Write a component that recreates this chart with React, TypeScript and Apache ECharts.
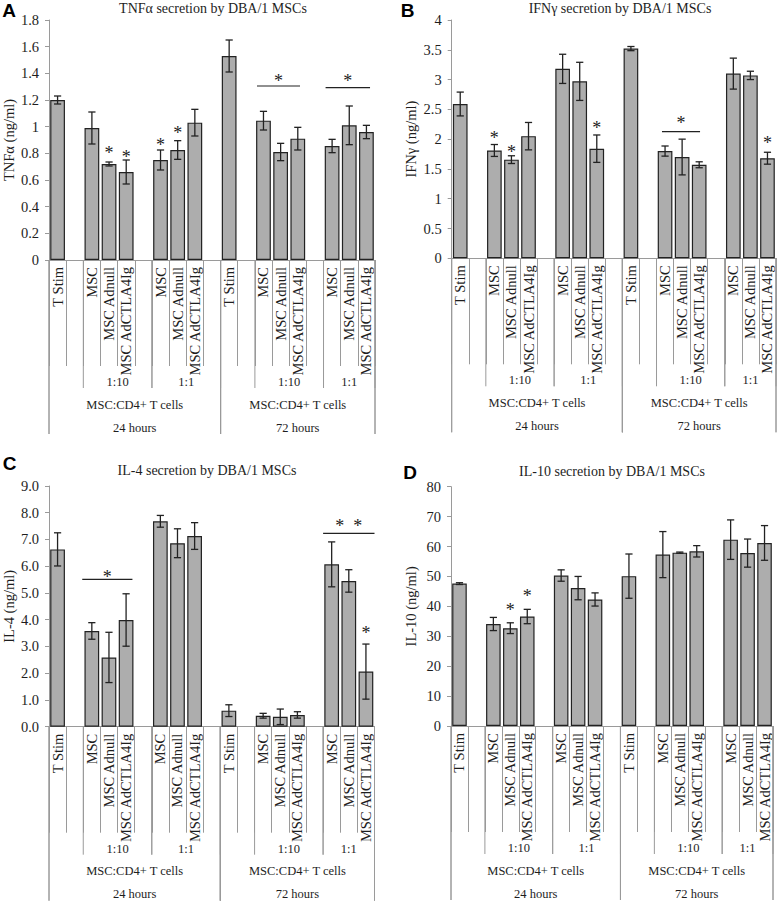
import React, { useEffect, useRef } from "react";
import * as echarts from "echarts";

// ---------- data ----------
const categories = [
  "T Stim", "", "MSC", "MSC Adnull", "MSC AdCTLA4Ig", "",
  "MSC", "MSC Adnull", "MSC AdCTLA4Ig", "",
  "T Stim", "", "MSC", "MSC Adnull", "MSC AdCTLA4Ig", "",
  "MSC", "MSC Adnull", "MSC AdCTLA4Ig",
];
const ratioLabels = ["1:10", "1:1", "1:10", "1:1"];
const ratioStart = [2, 6, 12, 16];
const ratioEnd = [6, 10, 16, 19];
const cellLabels = ["MSC:CD4+ T cells", "MSC:CD4+ T cells"];
const timeLabels = ["24 hours", "72 hours"];
const timeStart = [0, 10];
const timeEnd = [10, 19];

const tnfMean = [1.2, null, 0.99, 0.72, 0.66, null, 0.75, 0.825, 1.03, null, 1.53, null, 1.045, 0.81, 0.91, null, 0.855, 1.01, 0.96];
const tnfErr = [0.03, null, 0.12, 0.015, 0.09, null, 0.075, 0.07, 0.1, null, 0.12, null, 0.07, 0.065, 0.085, null, 0.05, 0.145, 0.05];
const ifnMean = [2.59, null, 1.81, 1.656, 2.05, null, 3.18, 2.97, 1.84, null, 3.52, null, 1.8, 1.7, 1.57, null, 3.1, 3.07, 1.68];
const ifnErr = [0.2, null, 0.1, 0.065, 0.23, null, 0.245, 0.32, 0.23, null, 0.035, null, 0.085, 0.3, 0.05, null, 0.26, 0.07, 0.1];
const il4Mean = [6.63, null, 3.58, 2.59, 3.99, null, 7.68, 6.86, 7.13, null, 0.6, null, 0.41, 0.37, 0.44, null, 6.07, 5.45, 2.06];
const il4Err = [0.62, null, 0.31, 0.94, 0.98, null, 0.22, 0.54, 0.5, null, 0.22, null, 0.09, 0.29, 0.12, null, 0.84, 0.42, 1.03];
const il10Mean = [47.6, null, 34.1, 32.7, 36.6, null, 50.3, 46.1, 42.3, null, 50.1, null, 57.3, 57.95, 58.4, null, 62.3, 57.8, 61.2];
const il10Err = [0.3, null, 2.2, 1.8, 2.4, null, 1.9, 3.9, 2.2, null, 7.4, null, 7.7, 0.2, 1.9, null, 6.6, 4.7, 5.8];

// significance stars above single bars: category index, y value
const tnfStarX = [3, 4, 6, 7];
const tnfStarY = [0.8375, 0.8125, 0.9, 0.99];
const ifnStarX = [2, 3, 8, 18];
const ifnStarY = [2.1, 1.874, 2.266, 2.014];
const il4StarX = [18];
const il4StarY = [3.68];
const il10StarX = [3, 4];
const il10StarY = [40.4, 45.1];

// brackets: x from/to (category units), line y, star y, star text
const tnfBrX0 = [11.62, 15.62];
const tnfBrX1 = [14.13, 18.21];
const tnfBrY = [1.305, 1.2925];
const tnfBrStarY = [1.38, 1.38];
const tnfBrText = ["*", "*"];
const ifnBrX0 = [11.82];
const ifnBrX1 = [14.05];
const ifnBrY = [2.126];
const ifnBrStarY = [2.35];
const ifnBrText = ["*"];
const il4BrX0 = [1.44, 15.5];
const il4BrX1 = [4.37, 18.5];
const il4BrY = [5.51, 7.23];
const il4BrStarY = [5.77, 7.71];
const il4BrText = ["*", "*  *"];

const titles = [
  "TNFα secretion by DBA/1 MSCs",
  "IFNγ secretion by DBA/1 MSCs",
  "IL-4 secretion by DBA/1 MSCs",
  "IL-10 secretion by DBA/1 MSCs",
];
const yNames = ["TNFα (ng/ml)", "IFNγ (ng/ml)", "IL-4 (ng/ml)", "IL-10 (ng/ml)"];
const yMax = [1.8, 4, 9, 80];
const yStep = [0.2, 0.5, 1, 10];
const panelLetters = ["A", "B", "C", "D"];

// ---------- style / layout ----------
const SERIF = "'Liberation Serif', 'Times New Roman', serif";
const SANS = "'Liberation Sans', Arial, sans-serif";
const LINE = "#9a9a9a";
const TXT = "#1e1e1e";
const DARK = "#222222";
const BAR = "#adadad";

const grids = [
  { left: 48.5, top: 20, width: 326.5, height: 240 },
  { left: 451.7, top: 20, width: 324.3, height: 238.3 },
  { left: 48.5, top: 486, width: 326, height: 240.7 },
  { left: 451, top: 486.7, width: 322, height: 239.3 },
];
const titlePos = [[213, 8], [620, 8], [207, 470], [612, 471]];
const letterPos = [[9.2, 10], [407.5, 10], [9.5, 463.7], [410, 472]];

const catKeys = categories.map((_, i) => "c" + i);

function buildPanel(g: number, mean: (number | null)[], err: (number | null)[],
  starX: number[], starY: number[],
  brX0: number[], brX1: number[], brY: number[], brStarY: number[], brText: string[]) {
  const series: any[] = [];
  series.push({
    type: "bar",
    xAxisIndex: g,
    yAxisIndex: g,
    barWidth: "86%",
    silent: true,
    data: mean.map((v) => (v == null ? "-" : v)),
    itemStyle: { color: BAR, borderColor: DARK, borderWidth: 1.2 },
    z: 2,
  });
  const errData: number[][] = [];
  mean.forEach((m, i) => {
    if (m != null && err[i] != null) errData.push([i, m, err[i] as number]);
  });
  series.push({
    type: "custom",
    xAxisIndex: g,
    yAxisIndex: g,
    silent: true,
    z: 3,
    encode: { x: 0, y: 1 },
    data: errData,
    renderItem: (_p: any, api: any) => {
      const x = api.value(0), m = api.value(1), e = api.value(2);
      const t = api.coord([x, m + e]);
      const b = api.coord([x, m - e]);
      const hw = 3.6;
      const st = { stroke: DARK, lineWidth: 1.3 };
      return {
        type: "group",
        children: [
          { type: "line", shape: { x1: t[0], y1: t[1], x2: b[0], y2: b[1] }, style: st },
          { type: "line", shape: { x1: t[0] - hw, y1: t[1], x2: t[0] + hw, y2: t[1] }, style: st },
          { type: "line", shape: { x1: b[0] - hw, y1: b[1], x2: b[0] + hw, y2: b[1] }, style: st },
        ],
      };
    },
  });
  series.push({
    type: "custom",
    xAxisIndex: g,
    yAxisIndex: g,
    silent: true,
    z: 4,
    encode: { x: 0, y: 1 },
    data: starX.map((x, k) => [x, starY[k]]),
    renderItem: (_p: any, api: any) => {
      const c = api.coord([api.value(0), api.value(1)]);
      return {
        type: "text",
        x: c[0],
        y: c[1] + 5,
        style: { text: "*", fill: DARK, fontSize: 18, fontFamily: SERIF, align: "center", verticalAlign: "middle" },
      };
    },
  });
  series.push({
    type: "custom",
    xAxisIndex: g,
    yAxisIndex: g,
    silent: true,
    z: 4,
    encode: { x: 0, y: 1 },
    data: brX0.map((x, k) => [0, brY[k], k]),
    renderItem: (p: any, api: any) => {
      const k = p.dataIndex;
      const band = api.size([1, 0])[0];
      const base = api.coord([0, brY[k]]);
      const sBase = api.coord([0, brStarY[k]]);
      const x0 = base[0] + brX0[k] * band;
      const x1 = base[0] + brX1[k] * band;
      return {
        type: "group",
        children: [
          { type: "line", shape: { x1: x0, y1: base[1], x2: x1, y2: base[1] }, style: { stroke: DARK, lineWidth: 1.2 } },
          {
            type: "text",
            x: (x0 + x1) / 2,
            y: sBase[1] + 5,
            style: { text: brText[k], fill: DARK, fontSize: 18, fontFamily: SERIF, align: "center", verticalAlign: "middle" },
          },
        ],
      };
    },
  });
  const groups: { s: number; e: number; label: string; textOff: number; lineLen: number }[] = [];
  ratioLabels.forEach((l, k) => groups.push({ s: ratioStart[k], e: ratioEnd[k], label: l, textOff: 122, lineLen: 128 }));
  cellLabels.forEach((l, k) => groups.push({ s: timeStart[k], e: timeEnd[k], label: l, textOff: 144.5, lineLen: 174 }));
  timeLabels.forEach((l, k) => groups.push({ s: timeStart[k], e: timeEnd[k], label: l, textOff: 167.5, lineLen: 174 }));
  series.push({
    type: "custom",
    xAxisIndex: g,
    yAxisIndex: g,
    silent: true,
    clip: false,
    z: 1,
    encode: { x: 0, y: 1 },
    data: groups.map((gr) => [gr.s, 0]),
    renderItem: (p: any, api: any) => {
      const gr = groups[p.dataIndex];
      const band = api.size([1, 0])[0];
      const base = api.coord([0, 0]);
      const left0 = base[0] - band / 2;
      const xa = left0 + gr.s * band;
      const xb = left0 + gr.e * band;
      const y0 = base[1];
      const ls = { stroke: LINE, lineWidth: 1 };
      return {
        type: "group",
        children: [
          { type: "line", shape: { x1: xa, y1: y0, x2: xa, y2: y0 + gr.lineLen }, style: ls },
          { type: "line", shape: { x1: xb, y1: y0, x2: xb, y2: y0 + gr.lineLen }, style: ls },
          {
            type: "text",
            x: (xa + xb) / 2,
            y: y0 + gr.textOff,
            style: { text: gr.label, fill: TXT, fontSize: 12.5, fontFamily: SERIF, align: "center", verticalAlign: "middle" },
          },
        ],
      };
    },
  });
  return series;
}

export default function App() {
  const ref = useRef<HTMLDivElement>(null);
  useEffect(() => {
    if (!ref.current) return;
    const chart = echarts.init(ref.current, undefined, { renderer: "svg" });
    const xAxes = grids.map((_, g) => ({
      type: "category",
      gridIndex: g,
      data: catKeys,
      boundaryGap: true,
      axisLine: { show: true, lineStyle: { color: LINE, width: 1 } },
      axisTick: { show: true, interval: 0, length: 106, lineStyle: { color: LINE, width: 1 } },
      axisLabel: {
        interval: 0,
        rotate: 90,
        margin: 7,
        fontFamily: SERIF,
        fontSize: 14.5,
        color: TXT,
        formatter: (_v: string, idx: number) => categories[idx],
      },
      splitLine: { show: false },
    }));
    const yAxes = grids.map((_, g) => ({
      type: "value",
      gridIndex: g,
      min: 0,
      max: yMax[g],
      interval: yStep[g],
      axisLine: { show: true, lineStyle: { color: LINE, width: 1 } },
      axisTick: { show: true, length: 4, lineStyle: { color: LINE } },
      splitLine: { show: false },
      axisLabel: {
        margin: 10,
        fontFamily: SERIF,
        fontSize: 14.5,
        color: TXT,
        formatter: g === 2 ? (v: number) => v.toFixed(1) : (v: number) => String(Math.round(v * 100) / 100),
      },
      name: yNames[g],
      nameLocation: "middle",
      nameGap: 33,
      nameTextStyle: { fontFamily: SERIF, fontSize: 14.5, color: TXT },
    }));
    const series = [
      ...buildPanel(0, tnfMean, tnfErr, tnfStarX, tnfStarY, tnfBrX0, tnfBrX1, tnfBrY, tnfBrStarY, tnfBrText),
      ...buildPanel(1, ifnMean, ifnErr, ifnStarX, ifnStarY, ifnBrX0, ifnBrX1, ifnBrY, ifnBrStarY, ifnBrText),
      ...buildPanel(2, il4Mean, il4Err, il4StarX, il4StarY, il4BrX0, il4BrX1, il4BrY, il4BrStarY, il4BrText),
      ...buildPanel(3, il10Mean, il10Err, il10StarX, il10StarY, [], [], [], [], []),
    ];
    const graphics: any[] = [];
    titles.forEach((t, i) => {
      graphics.push({
        type: "text",
        x: titlePos[i][0],
        y: titlePos[i][1],
        silent: true,
        style: { text: t, fill: TXT, fontSize: 14, fontFamily: SERIF, align: "center", verticalAlign: "middle", textAlign: "center", textVerticalAlign: "middle" },
      });
    });
    panelLetters.forEach((t, i) => {
      graphics.push({
        type: "text",
        x: letterPos[i][0],
        y: letterPos[i][1],
        silent: true,
        style: { text: t, fill: "#000", fontSize: 19, fontWeight: "bold", fontFamily: SANS, align: "center", verticalAlign: "middle", textAlign: "center", textVerticalAlign: "middle" },
      });
    });
    chart.setOption({
      animation: false,
      backgroundColor: "#ffffff",
      grid: grids.map((g) => ({ ...g, containLabel: false })),
      xAxis: xAxes,
      yAxis: yAxes,
      series,
      graphic: graphics,
    });
    return () => chart.dispose();
  }, []);
  return <div ref={ref} style={{ position: "absolute", left: 0, top: 0, width: 777, height: 902 }} />;
}
